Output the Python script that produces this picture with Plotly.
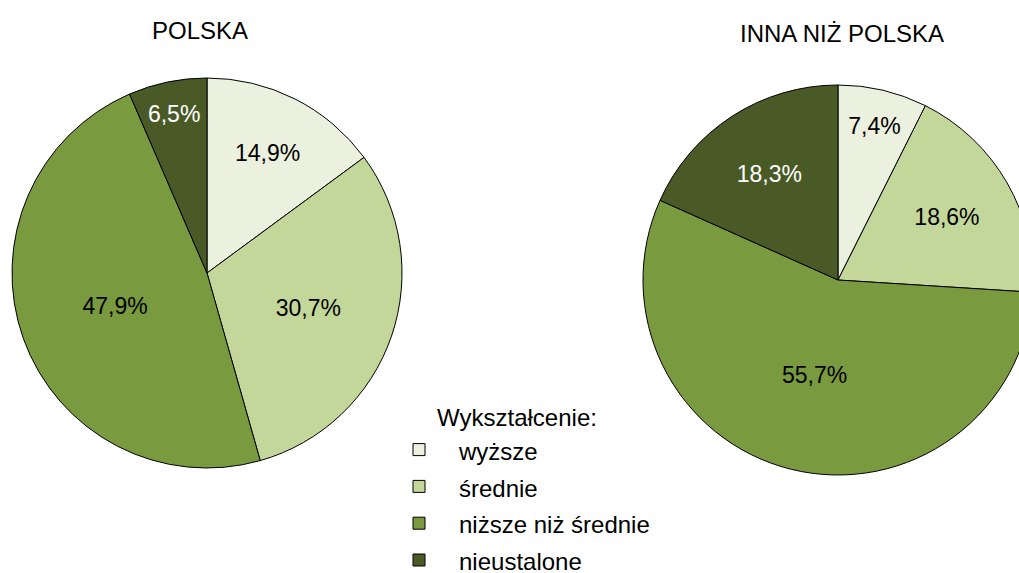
import plotly.graph_objects as go

categories = ["wyższe", "średnie", "niższe niż średnie", "nieustalone"]
polska = [14.9, 30.7, 47.9, 6.5]
inna = [7.4, 18.6, 55.7, 18.3]
titles = ["POLSKA", "INNA NIŻ POLSKA"]
legend_title = "Wykształcenie:"

colors = ["#EBF1DE", "#C4D79B", "#799A3F", "#4A5A27"]
text_colors = ["#000000", "#000000", "#000000", "#FFFFFF"]
text_colors_right = ["#000000", "#000000", "#000000", "#FFFFFF"]

W, H = 1040, 600
FONT = "Liberation Sans, Arial, sans-serif"
FS = 24

# legend rows are spaced by the legend font size; labels themselves drawn at FS
legend_labels = [f'<span style="font-size:{FS}px">{c}</span>' for c in categories]


def px_x(v):
    return v / W


def px_y(v):
    return 1 - v / H


fig = go.Figure()
for vals, dom, tcols in [
    (polska, dict(x=[px_x(12), px_x(402)], y=[px_y(468), px_y(78)]), text_colors),
    (inna, dict(x=[px_x(643), px_x(1033)], y=[px_y(475), px_y(85)]), text_colors_right),
]:
    fig.add_trace(go.Pie(
        labels=legend_labels,
        values=vals,
        sort=False,
        direction="clockwise",
        rotation=0,
        domain=dom,
        marker=dict(colors=colors, line=dict(color="#000000", width=1)),
        texttemplate="%{value:.1f}%",
        textposition="inside",
        insidetextorientation="horizontal",
        insidetextfont=dict(color=tcols, size=FS - 1, family=FONT),
        customdata=categories,
        hovertemplate="%{customdata}: %{value:.1f}%<extra></extra>",
    ))

fig.add_annotation(text=titles[0], x=px_x(200), y=px_y(31), xref="paper", yref="paper",
                   xanchor="center", yanchor="middle",
                   showarrow=False, font=dict(size=FS, family=FONT, color="#000"))
fig.add_annotation(text=titles[1], x=px_x(842), y=px_y(33), xref="paper", yref="paper",
                   xanchor="center", yanchor="middle",
                   showarrow=False, font=dict(size=FS, family=FONT, color="#000"))

fig.update_layout(
    width=W, height=H, autosize=False,
    margin=dict(l=0, r=0, t=0, b=0),
    paper_bgcolor="white", plot_bgcolor="white",
    separators=",.",
    showlegend=True,
    legend=dict(
        x=px_x(379), y=px_y(395), xanchor="left", yanchor="top",
        title=dict(text=legend_title, side="top center", font=dict(size=FS, family=FONT)),
        font=dict(size=26, family=FONT, color="#000"),
        bgcolor="rgba(0,0,0,0)",
        traceorder="normal",
        itemwidth=70,
    ),
    font=dict(family=FONT, color="#000"),
)

fig.write_html(
    "out.html",
    config={"displayModeBar": False},
    post_script="document.body.style.margin='0';document.body.style.overflow='hidden';document.documentElement.style.overflow='hidden';",
)
